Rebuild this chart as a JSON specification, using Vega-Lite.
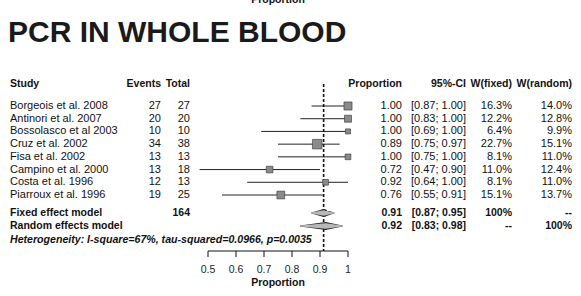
{
  "$schema": "https://vega.github.io/schema/vega-lite/v6.json",
  "width": 581,
  "height": 296,
  "autosize": {"type": "fit", "contains": "padding"},
  "padding": 0,
  "background": "white",
  "config": {"view": {"stroke": null}, "font": "Liberation Sans", "text": {"font": "Liberation Sans", "color": "#111"}},
  "datasets": {
    "columns": [
      {"key": "study", "col": 0}, {"key": "events", "col": 1}, {"key": "total", "col": 2},
      {"key": "prop", "col": 3}, {"key": "ci", "col": 4}, {"key": "wf", "col": 5}, {"key": "wr", "col": 6}
    ],
    "rows": [
      {"line": -1, "kind": "title", "study": "PCR IN WHOLE BLOOD"},
      {"line": 0, "kind": "header", "study": "Study", "events": "Events", "total": "Total", "prop": "Proportion", "ci": "95%-CI", "wf": "W(fixed)", "wr": "W(random)"},
      {"line": 1, "kind": "study", "study": "Borgeois et al. 2008", "events": "27", "total": "27", "prop": "1.00", "ci": "[0.87; 1.00]", "wf": "16.3%", "wr": "14.0%", "p": 1.0, "lo": 0.87, "hi": 1.0, "w": 16.3},
      {"line": 2, "kind": "study", "study": "Antinori et al. 2007", "events": "20", "total": "20", "prop": "1.00", "ci": "[0.83; 1.00]", "wf": "12.2%", "wr": "12.8%", "p": 1.0, "lo": 0.83, "hi": 1.0, "w": 12.2},
      {"line": 3, "kind": "study", "study": "Bossolasco et al 2003", "events": "10", "total": "10", "prop": "1.00", "ci": "[0.69; 1.00]", "wf": "6.4%", "wr": "9.9%", "p": 1.0, "lo": 0.69, "hi": 1.0, "w": 6.4},
      {"line": 4, "kind": "study", "study": "Cruz et al. 2002", "events": "34", "total": "38", "prop": "0.89", "ci": "[0.75; 0.97]", "wf": "22.7%", "wr": "15.1%", "p": 0.89, "lo": 0.75, "hi": 0.97, "w": 22.7},
      {"line": 5, "kind": "study", "study": "Fisa et al. 2002", "events": "13", "total": "13", "prop": "1.00", "ci": "[0.75; 1.00]", "wf": "8.1%", "wr": "11.0%", "p": 1.0, "lo": 0.75, "hi": 1.0, "w": 8.1},
      {"line": 6, "kind": "study", "study": "Campino et al. 2000", "events": "13", "total": "18", "prop": "0.72", "ci": "[0.47; 0.90]", "wf": "11.0%", "wr": "12.4%", "p": 0.72, "lo": 0.47, "hi": 0.9, "w": 11.0},
      {"line": 7, "kind": "study", "study": "Costa et al. 1996", "events": "12", "total": "13", "prop": "0.92", "ci": "[0.64; 1.00]", "wf": "8.1%", "wr": "11.0%", "p": 0.92, "lo": 0.64, "hi": 1.0, "w": 8.1},
      {"line": 8, "kind": "study", "study": "Piarroux et al. 1996", "events": "19", "total": "25", "prop": "0.76", "ci": "[0.55; 0.91]", "wf": "15.1%", "wr": "13.7%", "p": 0.76, "lo": 0.55, "hi": 0.91, "w": 15.1},
      {"line": 9, "kind": "summary", "study": "Fixed effect model", "total": "164", "prop": "0.91", "ci": "[0.87; 0.95]", "wf": "100%", "wr": "--"},
      {"line": 10, "kind": "summary", "study": "Random effects model", "prop": "0.92", "ci": "[0.83; 0.98]", "wf": "--", "wr": "100%"},
      {"line": 11, "kind": "note", "study": "Heterogeneity: I-square=67%, tau-squared=0.0966, p=0.0035"}
    ],
    "pooled": [
      {"model": "Fixed effect model", "line": 9, "part": "lower", "x": 0.87},
      {"model": "Fixed effect model", "line": 9, "part": "estimate", "x": 0.913},
      {"model": "Fixed effect model", "line": 9, "part": "upper", "x": 0.95},
      {"model": "Random effects model", "line": 10, "part": "lower", "x": 0.83},
      {"model": "Random effects model", "line": 10, "part": "estimate", "x": 0.92},
      {"model": "Random effects model", "line": 10, "part": "upper", "x": 0.98}
    ],
    "ticks": [
      {"tick": 0.5, "label": "0.5", "line": 12}, {"tick": 0.6, "label": "0.6", "line": 12}, {"tick": 0.7, "label": "0.7", "line": 12},
      {"tick": 0.8, "label": "0.8", "line": 12}, {"tick": 0.9, "label": "0.9", "line": 12}, {"tick": 1.0, "label": "1", "line": 12}
    ]
  },
  "encoding": {
    "y": {
      "field": "line",
      "type": "quantitative",
      "scale": {"domain": [-2, -1, 0, 1, 8, 9, 10, 11, 12, 14], "range": [0, 33, 84, 106, 195, 213, 226, 240, 251, 283], "nice": false, "zero": false},
      "axis": null
    }
  },
  "layer": [
    {
      "data": {"name": "rows"},
      "transform": [
        {"fold": ["study", "events", "total", "prop", "ci", "wf", "wr"], "as": ["key", "text"]},
        {"filter": "isValid(datum.text) && datum.text !== ''"},
        {"lookup": "key", "from": {"data": {"name": "columns"}, "key": "key", "fields": ["col"]}}
      ],
      "encoding": {
        "x": {
          "field": "col",
          "type": "quantitative",
          "scale": {"domain": [0, 1, 2, 3, 4, 5, 6], "range": [10, 161, 190, 402, 466, 512, 572], "nice": false, "zero": false},
          "axis": null
        },
        "text": {"field": "text"}
      },
      "layer": [
        {
          "transform": [{"filter": "datum.kind === 'title'"}],
          "mark": {"type": "text", "align": "left", "baseline": "middle", "fontSize": 30, "fontWeight": "bold", "dx": -2, "color": "#1a1a1a"}
        },
        {
          "transform": [{"filter": "(datum.kind === 'header' || datum.kind === 'summary') && datum.col === 0"}],
          "mark": {"type": "text", "align": "left", "baseline": "middle", "fontSize": 10.5, "fontWeight": "bold"}
        },
        {
          "transform": [{"filter": "(datum.kind === 'header' || datum.kind === 'summary') && datum.col > 0"}],
          "mark": {"type": "text", "align": "right", "baseline": "middle", "fontSize": 10.5, "fontWeight": "bold"}
        },
        {
          "transform": [{"filter": "datum.kind === 'study' && datum.col === 0"}],
          "mark": {"type": "text", "align": "left", "baseline": "middle", "fontSize": 11}
        },
        {
          "transform": [{"filter": "datum.kind === 'study' && datum.col > 0"}],
          "mark": {"type": "text", "align": "right", "baseline": "middle", "fontSize": 11}
        },
        {
          "transform": [{"filter": "datum.kind === 'note'"}],
          "mark": {"type": "text", "align": "left", "baseline": "middle", "fontSize": 10.6, "fontWeight": "bold", "fontStyle": "italic"}
        }
      ]
    },
    {
      "layer": [
        {
          "data": {"name": "rows"},
          "transform": [{"filter": "datum.kind === 'study'"}],
          "mark": {"type": "rule", "stroke": "#222", "strokeWidth": 1},
          "encoding": {
            "x": {
              "field": "lo",
              "type": "quantitative",
              "scale": {"domain": [0.5, 1], "range": [208, 348], "nice": false, "zero": false},
              "axis": null
            },
            "x2": {"field": "hi"}
          }
        },
        {
          "data": {"name": "pooled"},
          "transform": [{"filter": "datum.model === 'Fixed effect model' && datum.part === 'estimate'"}],
          "mark": {"type": "rule", "stroke": "#111", "strokeWidth": 1.6, "strokeDash": [3, 2]},
          "encoding": {
            "x": {"field": "x", "type": "quantitative", "axis": null},
            "y": {"datum": 0},
            "y2": {"datum": 12}
          }
        },
        {
          "data": {"name": "ticks"},
          "transform": [{"aggregate": [{"op": "min", "field": "tick", "as": "from"}, {"op": "max", "field": "tick", "as": "to"}], "groupby": ["line"]}],
          "mark": {"type": "rule", "stroke": "#111", "strokeWidth": 1},
          "encoding": {
            "x": {"field": "from", "type": "quantitative", "axis": null},
            "x2": {"field": "to"}
          }
        },
        {
          "data": {"name": "ticks"},
          "mark": {"type": "tick", "orient": "vertical", "size": 6, "thickness": 1, "yOffset": 3, "color": "#111", "opacity": 1},
          "encoding": {
            "x": {"field": "tick", "type": "quantitative", "axis": null}
          }
        },
        {
          "data": {"name": "ticks"},
          "mark": {"type": "text", "align": "center", "baseline": "middle", "fontSize": 10.5, "color": "#222", "dy": 19},
          "encoding": {
            "x": {"field": "tick", "type": "quantitative", "axis": null},
            "text": {"field": "label"}
          }
        },
        {
          "data": {"values": [{"label": "Proportion", "at": 0.75, "line": 14}, {"label": "Proportion", "at": 0.75, "line": -2}]},
          "mark": {"type": "text", "align": "center", "baseline": "middle", "fontSize": 10.5, "fontWeight": "bold", "clip": true},
          "encoding": {
            "x": {"field": "at", "type": "quantitative", "axis": null},
            "text": {"field": "label"}
          }
        },
        {
          "data": {"name": "rows"},
          "transform": [{"filter": "datum.kind === 'study'"}],
          "mark": {"type": "point", "shape": "square", "filled": true, "fill": "#8a8a8a", "stroke": "#333", "strokeWidth": 0.6, "opacity": 1},
          "encoding": {
            "x": {"field": "p", "type": "quantitative", "axis": null},
            "size": {"field": "w", "type": "quantitative", "scale": {"type": "linear", "domain": [0, 25], "range": [0, 100], "zero": true}, "legend": null}
          }
        },
        {
          "data": {"name": "pooled"},
          "mark": {"type": "trail", "color": "#2a2a2a"},
          "encoding": {
            "x": {"field": "x", "type": "quantitative", "axis": null},
            "size": {"field": "part", "type": "ordinal", "scale": {"type": "ordinal", "domain": ["lower", "estimate", "upper"], "range": [0, 8, 0]}, "legend": null},
            "detail": {"field": "model"},
            "order": {"field": "x"}
          }
        },
        {
          "data": {"name": "pooled"},
          "mark": {"type": "trail", "color": "#b8b8b8"},
          "encoding": {
            "x": {"field": "x", "type": "quantitative", "axis": null},
            "size": {"field": "part", "type": "ordinal", "scale": {"type": "ordinal", "domain": ["lower", "estimate", "upper"], "range": [0, 5.5, 0]}, "legend": null},
            "detail": {"field": "model"},
            "order": {"field": "x"}
          }
        }
      ]
    }
  ],
  "resolve": {"scale": {"x": "independent", "size": "independent"}, "axis": {"x": "independent"}}
}
